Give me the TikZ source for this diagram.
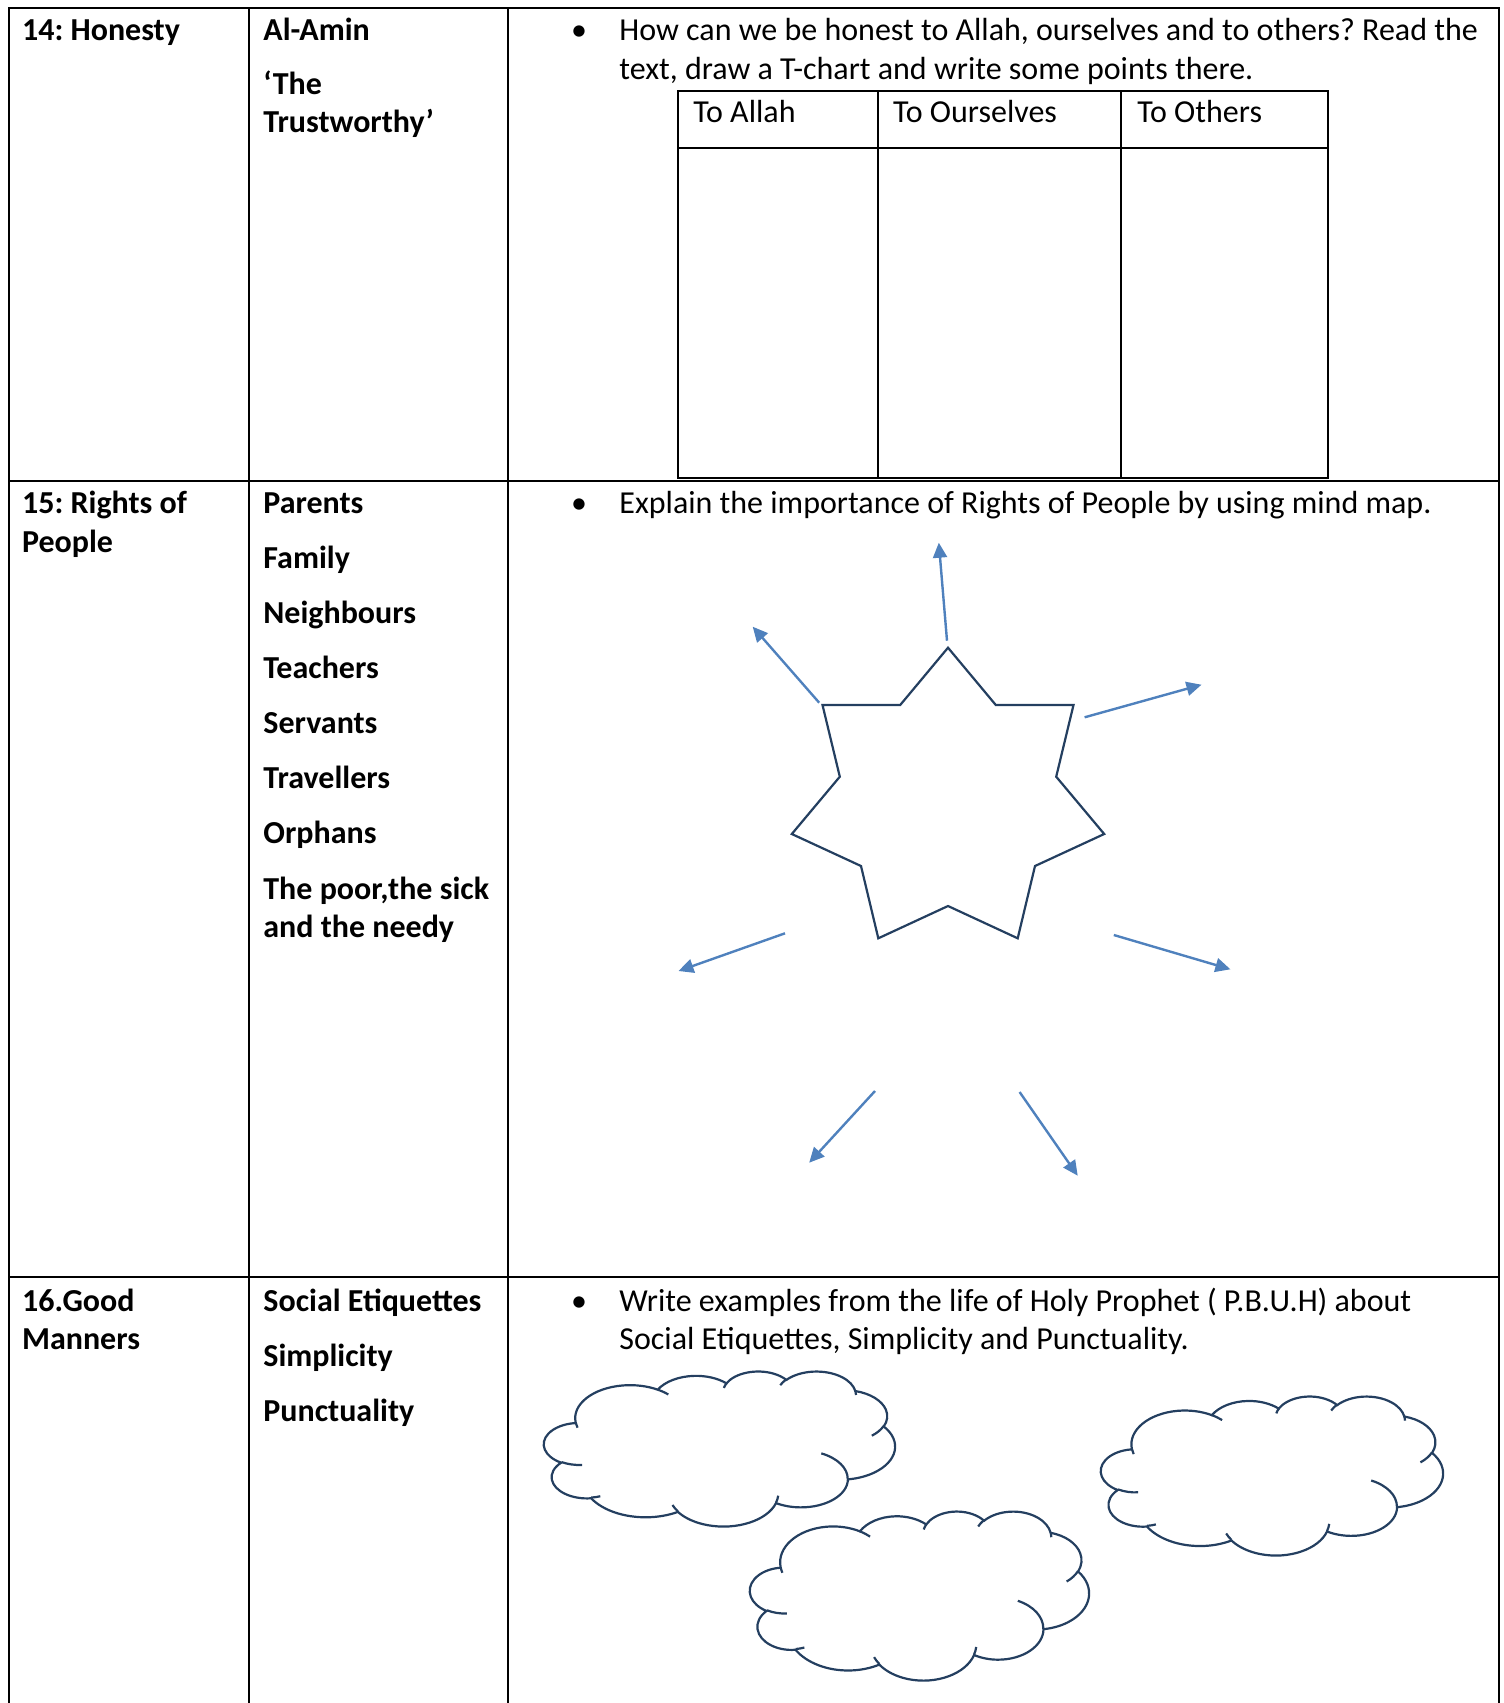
\documentclass[tikz,border=0pt]{standalone}
\usepackage{fontspec}
\setmainfont{Carlito}
\frenchspacing
\usetikzlibrary{arrows.meta}

\definecolor{shapeline}{RGB}{36,63,96}
\definecolor{mapblue}{RGB}{79,129,189}

\tikzset{
  grid/.style={line width=1pt, black},
  cell/.style={anchor=base west, inner sep=0pt, font=\fontsize{16}{19.5}\selectfont\bfseries},
  task/.style={anchor=base west, inner sep=0pt},
  bulletmark/.style={anchor=base, inner sep=0pt},
  mapline/.style={mapblue, line width=1.2pt, -{Triangle[length=7.5pt,width=7pt]}},
  cloudline/.style={shapeline, line width=1.1pt},
}

% one arc of the cloud outline (office angles measured on the ellipse)
\newcommand{\cloudarc}[4]{arc[x radius=#1, y radius=#2,
  start angle={atan2(#1*sin(#3),#2*cos(#3))},
  delta angle={mod(atan2(#1*sin(#3+#4),#2*cos(#3+#4))-atan2(#1*sin(#3),#2*cos(#3))+720,360)}]}

% cloud in a box: corner x, corner y, width, height (pixels)
\newcommand{\drawcloud}[4]{%
  \begin{scope}[shift={(#1,#2)}, x=1cm, y=1cm,
      xscale={#3*0.5/43.2/28.4528}, yscale={-#4*0.5/43.2/28.4528}]
    \draw[cloudline] (3.9,14.37) \cloudarc{6.753}{9.19}{-190.4875}{123.7805}
      \cloudarc{5.333}{7.267}{-144.1024}{89.9452}
      \cloudarc{4.365}{5.945}{-145.8079}{99.723}
      \cloudarc{4.857}{6.595}{-130.9861}{117.2417}
      \cloudarc{5.333}{7.273}{-78.7089}{109.0269}
      \cloudarc{6.775}{9.22}{-46.2673}{130.269}
      \cloudarc{5.785}{7.867}{0.625}{114.0333}
      \cloudarc{6.752}{9.215}{22.4516}{115.1726}
      \cloudarc{7.72}{10.543}{66.2426}{75.711}
      \cloudarc{4.36}{5.918}{-274.9421}{146.7356}
      \cloudarc{4.345}{5.945}{-246.8285}{152.5189} -- cycle;
    \draw[cloudline]
      (4.693,26.177) \cloudarc{4.345}{5.945}{86.742}{26.4295}
      (6.928,34.899) \cloudarc{4.36}{5.918}{73.6105}{11.4475}
      (16.478,39.09) \cloudarc{6.752}{9.215}{137.6242}{14.0811}
      (28.827,34.751) \cloudarc{6.752}{9.215}{6.4533}{15.9984}
      (34.129,22.954) \cloudarc{5.785}{7.867}{-70.2924}{70.9174}
      (41.798,15.354) \cloudarc{5.333}{7.273}{30.318}{27.7515}
      (38.324,5.426) \cloudarc{4.857}{6.595}{-13.7443}{14.8589}
      (29.078,3.952) \cloudarc{4.857}{6.595}{-149.1815}{18.1954}
      (22.141,4.72) \cloudarc{4.365}{5.945}{-163.4943}{17.6864}
      (14,5.192) \cloudarc{6.753}{9.19}{-66.707}{12.3194}
      (4.127,15.789) \cloudarc{6.753}{9.19}{157.6544}{11.8582};
  \end{scope}}

\begin{document}
\begin{tikzpicture}[x=0.5pt, y=-0.5pt, font=\fontsize{16}{19.5}\selectfont]
  \useasboundingbox (0,0) rectangle (1504,1703);

  % table
  \draw[grid] (8.7,1703) -- (8.7,7.6) -- (1498.6,7.6) -- (1498.6,1703);
  \draw[grid] (248.7,7.6) -- (248.7,1703);
  \draw[grid] (508.2,7.6) -- (508.2,1703);
  \draw[grid] (8.7,481) -- (1498.6,481);
  \draw[grid] (8.7,1277) -- (1498.6,1277);

  % row 14
  \node[cell] (honesty) at (21.7,40.5) {14: Honesty};
  \node[cell] (amin) at (263,40.5) {Al-Amin};
  \node[cell] (the) at (263,94) {‘The};
  \node[cell] (trusty) at (263,132.5) {Trustworthy’};
  \node[bulletmark] (dot1) at (579,40.5) {\textbullet};
  \node[task] (ask1) at (619,40.5) {How can we be honest to Allah, ourselves and to others? Read the};
  \node[task] (ask1b) at (619,79) {text, draw a T-chart and write some points there.};

  % T-chart
  \draw[grid] (677.7,91) rectangle (1328,477.5);
  \draw[grid] (677.7,148) -- (1328,148);
  \draw[grid] (877.5,91) -- (877.5,477.5);
  \draw[grid] (1121,91) -- (1121,477.5);
  \node[task] (allah) at (693,122.5) {To Allah};
  \node[task] (selves) at (892.7,122.5) {To Ourselves};
  \node[task] (others) at (1137,122.5) {To Others};

  % row 15
  \node[cell] (rights) at (21.7,513.5) {15: Rights of};
  \node[cell] (people) at (21.7,552) {People};
  \node[cell] (parents) at (263,513.5) {Parents};
  \node[cell] (family) at (263,568.5) {Family};
  \node[cell] (neigh) at (263,623.5) {Neighbours};
  \node[cell] (teach) at (263,678.5) {Teachers};
  \node[cell] (serv) at (263,733.5) {Servants};
  \node[cell] (trav) at (263,788.5) {Travellers};
  \node[cell] (orph) at (263,843.5) {Orphans};
  \node[cell] (poor) at (263,899) {The poor,the sick};
  \node[cell] (needy) at (263,937.5) {and the needy};
  \node[bulletmark] (dot2) at (579,513.5) {\textbullet};
  \node[task] (ask2) at (619,513.5) {Explain the importance of Rights of People by using mind map.};

  % mind map star
  \draw[shapeline, line width=1.1pt] (948,647.7) -- (995.8,705) -- (1073.5,705) -- (1056.2,776.7)
    -- (1104.2,834) -- (1035,866) -- (1017.7,938.3) -- (948,906) -- (878.3,938.3)
    -- (861,866) -- (791.8,834) -- (839.8,776.7) -- (822.5,705) -- (900.2,705) -- cycle;

  \coordinate (tailn) at (947,640.7);   \coordinate (tipn) at (938.8,542.7);
  \coordinate (tailnw) at (819.2,702.7); \coordinate (tipnw) at (752.7,626.7);
  \coordinate (tailne) at (1084.6,717.3); \coordinate (tipne) at (1201.5,684.7);
  \coordinate (tailw) at (785,933.3);   \coordinate (tipw) at (678.5,971);
  \coordinate (taile) at (1113.8,935);  \coordinate (tipe) at (1230.4,969.3);
  \coordinate (tailsw) at (875,1091);   \coordinate (tipsw) at (809.2,1162.7);
  \coordinate (tailse) at (1019.6,1092); \coordinate (tipse) at (1077.7,1175.7);
  \foreach \d in {n,nw,ne,w,e,sw,se}
    \draw[mapline] (tail\d) -- (tip\d);

  % row 16
  \node[cell] (good) at (21.7,1311) {16.Good};
  \node[cell] (manners) at (21.7,1349.5) {Manners};
  \node[cell] (social) at (263,1311) {Social Etiquettes};
  \node[cell] (simple) at (263,1366) {Simplicity};
  \node[cell] (punct) at (263,1421) {Punctuality};
  \node[bulletmark] (dot3) at (579,1311) {\textbullet};
  \node[task] (ask3) at (619,1311) {Write examples from the life of Holy Prophet ( P.B.U.H) about};
  \node[task] (ask3b) at (619,1349.5) {Social Etiquettes, Simplicity and Punctuality.};

  % clouds
  \drawcloud{544}{1371}{351}{155}
  \drawcloud{750}{1511}{339}{169}
  \drawcloud{1101}{1396}{342}{159}
\end{tikzpicture}
\end{document}
